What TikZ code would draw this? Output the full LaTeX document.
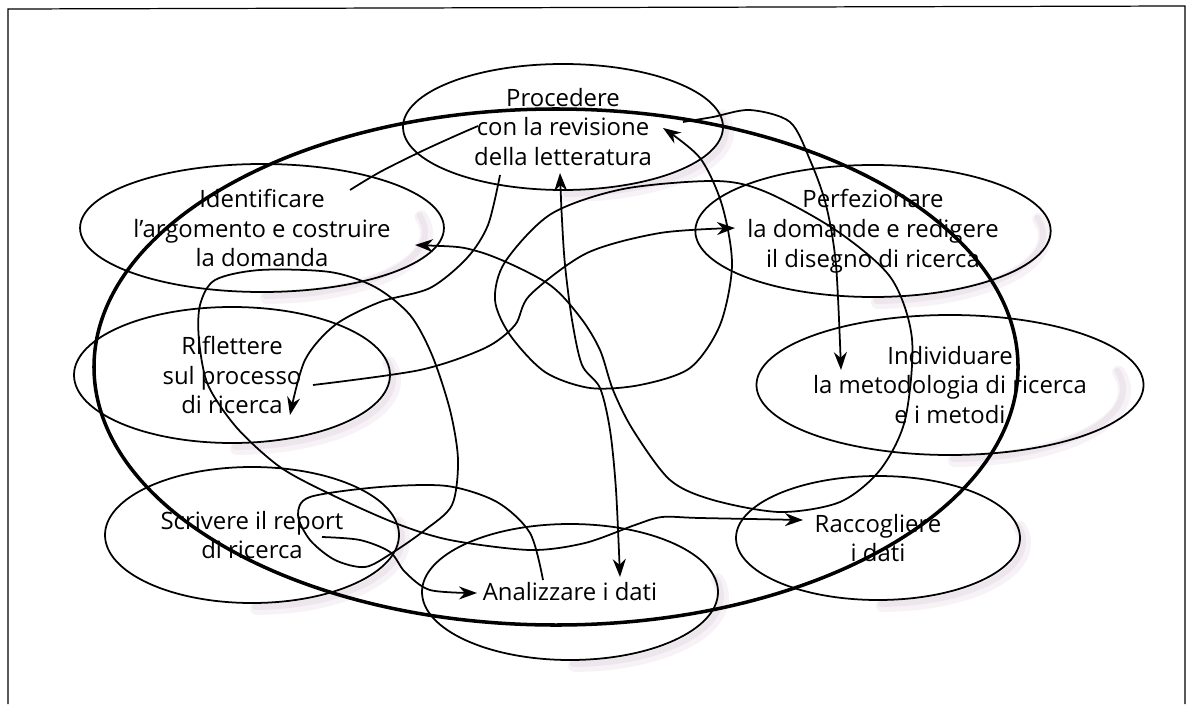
\documentclass[tikz,border=0pt]{standalone}
\usepackage{fontspec}
\setmainfont{Open Sans}
\usetikzlibrary{shapes.geometric,arrows.meta,backgrounds}
\definecolor{ombra}{RGB}{226,212,224}
\tikzset{
  fase/.style={ellipse,draw,line width=1pt,inner sep=0pt,align=center,
    font=\fontsize{13.6}{17}\selectfont},
  giro/.style={line width=1pt},
  halo/.style={line width=2.6mm,draw=ombra,opacity=0.3,line cap=round},
  halo2/.style={line width=1.2mm,draw=ombra,opacity=0.4,line cap=round},
}
\begin{document}
\begin{tikzpicture}[x=0.2mm,y=-0.2mm,>={Stealth[length=3.6mm,width=2.6mm]}]
\useasboundingbox (0,0) rectangle (1187,704);
% cornice
\draw[line width=0.7pt] (8,704) -- (8,9) -- (1185,6) -- (1185,704);
% ciclo grande
\draw[line width=2pt] (556,367) ellipse [x radius=92.4mm, y radius=51.6mm];
% fasi
\node[fase,minimum width=64mm,minimum height=25.2mm] (proc) at (563,127) {Procedere\\con la revisione\\della letteratura};
\node[fase,minimum width=64mm,minimum height=25.6mm] (ident) at (262,228) {Identificare\\l’argomento e costruire\\la domanda};
\node[fase,minimum width=66.8mm,minimum height=26.4mm] (perf) at (873,231) {Perfezionare\\la domande e redigere\\il disegno di ricerca};
\node[fase,minimum width=63.2mm,minimum height=27.2mm] (rifl) at (232,375) {Riflettere\\sul processo\\di ricerca};
\node[fase,minimum width=68mm,minimum height=28mm] (indiv) at (950,385) {Individuare\\la metodologia di ricerca\\e i metodi};
\node[fase,minimum width=58.8mm,minimum height=27.2mm] (scriv) at (252,535) {Scrivere il report\\di ricerca};
\node[fase,minimum width=59.2mm,minimum height=27.2mm] (anal) at (570,592) {Analizzare i dati};
\node[fase,minimum width=56.8mm,minimum height=24.8mm] (racc) at (878,538) {Raccogliere\\i dati};
% ombre
\begin{scope}[on background layer]
  \foreach \n/\a/\b in {proc/32/12.6,ident/32/12.8,perf/33.4/13.2,rifl/31.6/13.6,
      indiv/34/14,scriv/29.4/13.6,anal/29.6/13.6,racc/28.4/12.4}{
    \draw[halo] ([shift={(0.9mm,-0.9mm)}]\n.south) arc[start angle=-90,end angle=15,x radius=\a mm,y radius=\b mm];
    \draw[halo2] ([shift={(0.6mm,-0.6mm)}]\n.south) arc[start angle=-90,end angle=15,x radius=\a mm,y radius=\b mm];
  }
\end{scope}
% estremi dei percorsi
\coordinate (ident-a) at (350,190);
\coordinate (proc-a) at (663,128);
\coordinate (proc-b) at (500,175);
\coordinate (proc-c) at (560,173);
\coordinate (proc-d) at (683,122);
\coordinate (proc-e) at (478,126);
\coordinate (ident-b) at (415,245);
\coordinate (rifl-a) at (290,415);
\coordinate (rifl-b) at (313,385);
\coordinate (perf-a) at (735,228);
\coordinate (indiv-a) at (841,370);
\coordinate (racc-a) at (803,520);
\coordinate (anal-a) at (620,577);
\coordinate (anal-b) at (543,580);
\coordinate (anal-c) at (477,593);
\coordinate (scriv-a) at (322,537);
% percorsi
\draw[giro] plot[smooth] coordinates {(ident-a) (380,172) (420,152) (455,136) (proc-e)};
\draw[giro,->] plot[smooth] coordinates {(proc-b) (488,225) (467,258) (430,288) (380,302) (335,325) (305,360) (rifl-a)};
\draw[giro,->] plot[smooth] coordinates {(rifl-b) (420,370) (485,348) (515,325) (530,295) (587,253) (660,233) (perf-a)};
\draw[giro,<->] plot[smooth] coordinates {(ident-b) (480,252) (547,283) (580,317) (600,350) (613,390) (633,430) (670,480) (713,500) (780,512) (840,502) (880,470) (905,420) (912,339) (891,278) (837,231) (766,192) (716,181) (623,189) (551,214) (505,262) (495,300) (510,335) (545,372) (590,388) (640,385) (690,368) (720,325) (732,265) (722,205) (700,158) (proc-a)};
\draw[giro,->] plot[smooth] coordinates {(proc-d) (713,117) (750,110) (790,122) (810,160) (826,205) (836,265) (indiv-a)};
\draw[giro,<->] plot[smooth] coordinates {(proc-c) (562,220) (565,265) (572,320) (582,365) (600,388) (610,430) (616,490) (anal-a)};
\draw[giro,->] plot[smooth] coordinates {(scriv-a) (360,540) (390,552) (405,572) (430,590) (anal-c)};
\draw[giro,->] plot[smooth] coordinates {(anal-b) (530,533) (497,502) (447,486) (380,487) (310,497) (298,515) (310,540) (335,560) (365,567) (392,553) (425,530) (452,505) (458,460) (450,410) (432,355) (410,315) (375,287) (330,272) (260,270) (215,280) (200,305) (199,340) (208,385) (237,428) (280,467) (330,494) (395,523) (450,540) (530,550) (585,543) (635,525) (662,517) (700,518) (racc-a)};
\end{tikzpicture}
\end{document}
